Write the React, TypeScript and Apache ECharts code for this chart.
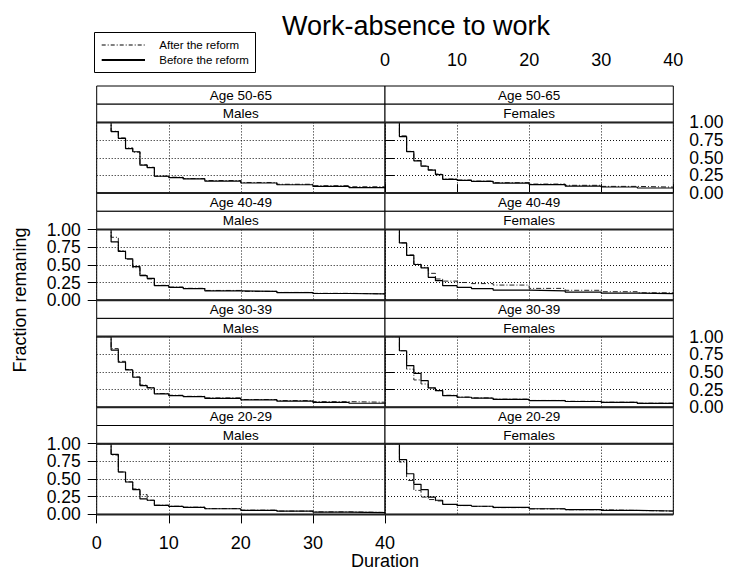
import React, { useEffect, useRef } from "react";
import * as echarts from "echarts";

// ---------- data ----------
const DURATIONS = [0, 2, 3, 4, 5, 6, 7, 8, 10, 12, 15, 20, 25, 30, 35, 40];
const X_TICKS = [0, 10, 20, 30, 40];
const Y_TICKS = [0, 0.25, 0.5, 0.75, 1];

const AGE_GROUPS = ["Age 50-65", "Age 40-49", "Age 30-39", "Age 20-29"];
const SEXES = ["Males", "Females"];
const SERIES_NAMES = ["After the reform", "Before the reform"];

const m5065Before = [1, 0.87, 0.775, 0.63, 0.585, 0.395, 0.36, 0.238, 0.22, 0.2, 0.17, 0.143, 0.118, 0.095, 0.078, 0.065];
const m5065After = [1, 0.875, 0.78, 0.64, 0.58, 0.4, 0.365, 0.24, 0.225, 0.205, 0.178, 0.15, 0.125, 0.105, 0.09, 0.08];
const f5065Before = [1, 0.8, 0.586, 0.457, 0.38, 0.324, 0.262, 0.195, 0.18, 0.165, 0.14, 0.12, 0.1, 0.086, 0.072, 0.062];
const f5065After = [1, 0.81, 0.59, 0.46, 0.385, 0.33, 0.27, 0.2, 0.185, 0.17, 0.148, 0.128, 0.11, 0.095, 0.085, 0.078];

const m4049Before = [1, 0.824, 0.69, 0.586, 0.476, 0.348, 0.31, 0.205, 0.18, 0.165, 0.133, 0.124, 0.108, 0.095, 0.09, 0.086];
const m4049After = [1, 0.89, 0.7, 0.58, 0.46, 0.355, 0.3, 0.21, 0.185, 0.168, 0.138, 0.125, 0.11, 0.097, 0.09, 0.085];
const f4049Before = [1, 0.81, 0.633, 0.505, 0.457, 0.324, 0.276, 0.205, 0.18, 0.165, 0.143, 0.133, 0.115, 0.1, 0.092, 0.086];
const f4049After = [1, 0.81, 0.64, 0.51, 0.465, 0.38, 0.3, 0.27, 0.25, 0.235, 0.214, 0.167, 0.14, 0.12, 0.105, 0.095];

const m3039Before = [1, 0.81, 0.637, 0.528, 0.425, 0.307, 0.274, 0.19, 0.165, 0.15, 0.127, 0.104, 0.086, 0.07, 0.057, 0.047];
const m3039After = [1, 0.83, 0.65, 0.535, 0.43, 0.315, 0.28, 0.195, 0.17, 0.155, 0.133, 0.11, 0.095, 0.08, 0.072, 0.068];
const f3039Before = [1, 0.8, 0.59, 0.48, 0.377, 0.274, 0.236, 0.165, 0.142, 0.13, 0.112, 0.094, 0.082, 0.07, 0.055, 0.038];
const f3039After = [1, 0.8, 0.54, 0.387, 0.33, 0.27, 0.235, 0.17, 0.145, 0.133, 0.115, 0.097, 0.085, 0.072, 0.058, 0.042];

const m2029Before = [1, 0.85, 0.6, 0.458, 0.35, 0.22, 0.2, 0.127, 0.113, 0.1, 0.08, 0.057, 0.045, 0.033, 0.025, 0.02];
const m2029After = [1, 0.84, 0.6, 0.46, 0.36, 0.28, 0.2, 0.13, 0.115, 0.102, 0.082, 0.06, 0.047, 0.036, 0.028, 0.024];
const f2029Before = [1, 0.774, 0.575, 0.425, 0.35, 0.245, 0.2, 0.142, 0.127, 0.115, 0.098, 0.08, 0.068, 0.057, 0.048, 0.042];
const f2029After = [1, 0.74, 0.48, 0.34, 0.245, 0.21, 0.19, 0.14, 0.125, 0.113, 0.096, 0.078, 0.066, 0.056, 0.047, 0.04];

// [row][col] -> [after, before]
const PANEL_VALUES = [
  [[m5065After, m5065Before], [f5065After, f5065Before]],
  [[m4049After, m4049Before], [f4049After, f4049Before]],
  [[m3039After, m3039Before], [f3039After, f3039Before]],
  [[m2029After, m2029Before], [f2029After, f2029Before]],
];

// ---------- layout ----------
const W = 731;
const H = 571;
const FONT = "Liberation Sans, Arial, Helvetica, sans-serif";
const COL_X = [96.7, 385];
const PANEL_W = 288.3;
const ROW_TOP0 = 86;
const ROW_H = 107.1;
const STRIP_H = 18.2;
const PLOT_H = ROW_H - 2 * STRIP_H;

export default function App() {
  const ref = useRef<HTMLDivElement>(null);

  useEffect(() => {
    if (!ref.current) return;
    const chart = echarts.init(ref.current, undefined, { renderer: "svg", width: W, height: H });

    const grids: any[] = [];
    const xAxes: any[] = [];
    const yAxes: any[] = [];
    const series: any[] = [];
    const graphics: any[] = [];

    const dotted = { color: "#111", width: 1, type: [1, 2] };
    const yLabelGroups = [
      [Y_TICKS[0], Y_TICKS[2], Y_TICKS[4]],
      [Y_TICKS[1], Y_TICKS[3]],
    ];

    let gi = 0;
    for (let r = 0; r < 4; r++) {
      for (let c = 0; c < 2; c++) {
        const rowTop = ROW_TOP0 + r * ROW_H;
        const left = COL_X[c];
        const plotTop = rowTop + 2 * STRIP_H;
        grids.push({
          left,
          top: plotTop,
          width: PANEL_W,
          height: PLOT_H,
          show: true,
          borderColor: "#000",
          borderWidth: 1,
          backgroundColor: "transparent",
        });
        const topAxis = r === 0 && c === 1;
        const bottomAxis = r === 3 && c === 0;
        const showX = topAxis || bottomAxis;
        xAxes.push({
          type: "value",
          gridIndex: gi,
          min: X_TICKS[0],
          max: X_TICKS[X_TICKS.length - 1],
          interval: 10,
          position: topAxis ? "top" : "bottom",
          offset: topAxis ? 2 * STRIP_H : 0,
          axisLine: { show: false },
          axisTick: { show: showX, length: 9, lineStyle: { color: "#000", width: 1 } },
          axisLabel: {
            show: showX,
            fontSize: 18,
            lineHeight: 16,
            color: "#000",
            fontFamily: FONT,
            margin: topAxis ? 18 : 21,
            showMinLabel: true,
            showMaxLabel: true,
          },
          splitLine: { show: true, lineStyle: dotted },
        });
        const rightY = (r === 0 || r === 2) && c === 1;
        const leftY = (r === 1 || r === 3) && c === 0;
        const showY = rightY || leftY;
        const pos = c === 1 ? "right" : "left";
        const mainY = yAxes.length;
        yAxes.push({
          type: "value",
          gridIndex: gi,
          min: Y_TICKS[0],
          max: Y_TICKS[Y_TICKS.length - 1],
          interval: 0.25,
          position: pos,
          axisLine: { show: false },
          axisTick: { show: showY, length: 9, lineStyle: { color: "#000", width: 1 } },
          axisLabel: { show: false },
          splitLine: { show: true, lineStyle: dotted },
        });
        if (showY) {
          yLabelGroups.forEach((vals) => {
            yAxes.push({
              type: "value",
              gridIndex: gi,
              min: Y_TICKS[0],
              max: Y_TICKS[Y_TICKS.length - 1],
              interval: 0.25,
              position: pos,
              axisLine: { show: false },
              axisTick: { show: false },
              splitLine: { show: false },
              axisLabel: {
                show: true,
                customValues: vals,
                showMinLabel: true,
                showMaxLabel: true,
                fontSize: 17.5,
                lineHeight: 14,
                color: "#000",
                fontFamily: FONT,
                margin: 16,
                formatter: (v: number) => v.toFixed(2),
              },
            });
          });
        }

        const [afterVals, beforeVals] = PANEL_VALUES[r][c];
        series.push({
          name: SERIES_NAMES[0],
          type: "line",
          xAxisIndex: gi,
          yAxisIndex: mainY,
          step: "end",
          symbol: "none",
          data: DURATIONS.map((d, i) => [d, afterVals[i]]),
          lineStyle: { color: "#222", width: 1, type: [5, 2, 1, 2] },
          z: 3,
        });
        series.push({
          name: SERIES_NAMES[1],
          type: "line",
          xAxisIndex: gi,
          yAxisIndex: mainY,
          step: "end",
          symbol: "none",
          data: DURATIONS.map((d, i) => [d, beforeVals[i]]),
          lineStyle: { color: "#000", width: 1.2 },
          z: 4,
        });

        // strips
        const labels = [AGE_GROUPS[r], SEXES[c]];
        labels.forEach((lab, k) => {
          const sy = rowTop + k * STRIP_H;
          graphics.push({
            type: "rect",
            shape: { x: left, y: sy, width: PANEL_W, height: STRIP_H },
            style: { fill: "#fff", stroke: "#000", lineWidth: 1 },
            z: 10,
          });
          graphics.push({
            type: "text",
            x: left + PANEL_W / 2,
            y: sy + STRIP_H / 2 + 0.5,
            style: {
              text: lab,
              fontSize: 13.5,
              fontFamily: FONT,
              fill: "#000",
              textAlign: "center",
              textVerticalAlign: "middle",
            },
            z: 11,
          });
        });
        // heavier plot top/bottom borders
        [plotTop, plotTop + PLOT_H].forEach((yy) => {
          graphics.push({
            type: "line",
            shape: { x1: left, y1: yy, x2: left + PANEL_W, y2: yy },
            style: { stroke: "#222", lineWidth: 2 },
            z: 12,
          });
        });
        gi++;
      }
    }

    // title
    graphics.push({
      type: "text",
      x: 416,
      y: 26,
      style: {
        text: "Work-absence to work",
        fontSize: 27,
        fontFamily: FONT,
        fill: "#000",
        textAlign: "center",
        textVerticalAlign: "middle",
      },
    });
    // legend
    graphics.push({
      type: "rect",
      shape: { x: 94.5, y: 32.5, width: 161, height: 40 },
      style: { fill: "#fff", stroke: "#000", lineWidth: 1 },
    });
    graphics.push({
      type: "line",
      shape: { x1: 101.7, y1: 45, x2: 145, y2: 45 },
      style: { stroke: "#000", lineWidth: 1, lineDash: [4, 2, 1, 2] },
    });
    graphics.push({
      type: "line",
      shape: { x1: 101.7, y1: 60, x2: 145, y2: 60 },
      style: { stroke: "#000", lineWidth: 2 },
    });
    SERIES_NAMES.forEach((n, i) => {
      graphics.push({
        type: "text",
        x: 159.3,
        y: 45 + i * 15,
        style: {
          text: n,
          fontSize: 11.5,
          fontFamily: FONT,
          fill: "#000",
          textAlign: "left",
          textVerticalAlign: "middle",
        },
      });
    });
    // axis titles
    graphics.push({
      type: "text",
      x: 20,
      y: 300,
      rotation: Math.PI / 2,
      style: {
        text: "Fraction remaning",
        fontSize: 18,
        fontFamily: FONT,
        fill: "#000",
        textAlign: "center",
        textVerticalAlign: "middle",
      },
    });
    graphics.push({
      type: "text",
      x: 385,
      y: 561,
      style: {
        text: "Duration",
        fontSize: 18,
        lineHeight: 16,
        fontFamily: FONT,
        fill: "#000",
        textAlign: "center",
        textVerticalAlign: "middle",
      },
    });

    chart.setOption({
      animation: false,
      backgroundColor: "#fff",
      grid: grids,
      xAxis: xAxes,
      yAxis: yAxes,
      series,
      graphic: graphics,
    });

    return () => chart.dispose();
  }, []);

  return (
    <div
      ref={ref}
      style={{ position: "absolute", left: 0, top: 0, width: W, height: H }}
    />
  );
}
